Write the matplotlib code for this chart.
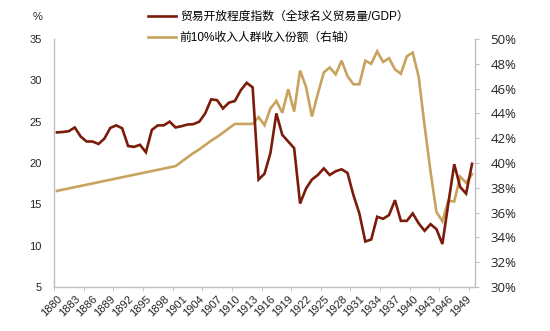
import matplotlib
matplotlib.use("Agg")
import matplotlib.pyplot as plt
from matplotlib.ticker import FixedLocator, FuncFormatter

plt.rcParams['font.family'] = ['Liberation Sans', 'Noto Sans CJK SC', 'DejaVu Sans']

years = list(range(1880, 1951))

trade_openness = [
    23.7, 23.75, 23.85, 24.3, 23.2, 22.6, 22.6, 22.3, 22.95, 24.25,
    24.55, 24.2, 22.05, 21.95, 22.2, 21.3, 24.0, 24.55, 24.55, 25.0,
    24.3, 24.45, 24.65, 24.7, 25.0, 26.0, 27.7, 27.6, 26.6, 27.3,
    27.5, 28.8, 29.7, 29.15, 18.0, 18.7, 21.2, 26.0, 23.4, 22.6,
    21.8, 15.1, 16.9, 18.0, 18.55, 19.35, 18.55, 19.0, 19.24, 18.8,
    16.1, 13.9, 10.5, 10.75, 13.5, 13.25, 13.7, 15.5, 13.0, 13.0,
    13.9, 12.7, 11.8, 12.6, 12.0, 10.2, 15.1, 19.85, 17.1, 16.3,
    19.9,
]

top10_share = [
    37.75, 37.85, 37.95, 38.05, 38.15, 38.25, 38.35, 38.45, 38.55, 38.65,
    38.75, 38.85, 38.95, 39.05, 39.15, 39.25, 39.35, 39.45, 39.55, 39.65,
    39.75, 40.1, 40.45, 40.8, 41.1, 41.45, 41.8, 42.1, 42.45, 42.8,
    43.15, 43.15, 43.15, 43.15, 43.7, 43.05, 44.4, 45.0, 44.05, 45.95,
    44.15, 47.45, 46.15, 43.75, 45.6, 47.3, 47.7, 47.15, 48.25, 47.0,
    46.35, 46.35, 48.25, 48.0, 49.0, 48.15, 48.45, 47.55, 47.2, 48.6,
    48.9, 46.95, 43.0, 39.3, 36.05, 35.3, 36.95, 36.9, 38.9, 38.4,
    39.1,
]

label_years = years[::3]
left_ticks = [5, 10, 15, 20, 25, 30, 35]
right_ticks = [30, 32, 34, 36, 38, 40, 42, 44, 46, 48, 50]

red = '#7B1C0A'
gold = '#C8A35E'
grey = '#BFBFBF'

fig = plt.figure(figsize=(5.5, 3.31), dpi=100)
ax = fig.add_axes([54 / 550, 1 - 287 / 331, (475 - 54) / 550, (287 - 39) / 331])
ax2 = ax.twinx()

l1, = ax.plot(years, trade_openness, color=red, lw=1.9, solid_joinstyle='miter',
              label='贸易开放程度指数（全球名义贸易量/GDP）', zorder=3)
l2, = ax2.plot(years, top10_share, color=gold, lw=1.9, solid_joinstyle='miter',
               label='前10%收入人群收入份额（右轴）', zorder=2)
ax.set_zorder(ax2.get_zorder() + 1)
ax.patch.set_visible(False)

ax.set_xlim(1879.5, 1950.5)
ax.set_ylim(5, 35)
ax2.set_ylim(30, 50)

for a in (ax, ax2):
    a.spines['top'].set_visible(False)
    for s in ('left', 'right', 'bottom'):
        a.spines[s].set_color(grey)
        a.spines[s].set_linewidth(1.0)
ax.spines['right'].set_visible(False)
ax2.spines['left'].set_visible(False)
ax2.spines['bottom'].set_visible(False)

ax.xaxis.set_major_locator(FixedLocator(label_years))
ax.set_xticklabels([str(y) for y in label_years], rotation=45, ha='right',
                   rotation_mode='anchor', fontsize=8, color='#262626')
ax.xaxis.set_minor_locator(FixedLocator([1879.5 + 5 * k for k in range(15)]))
ax.tick_params(axis='x', which='major', length=0, pad=5)
ax.tick_params(axis='x', which='minor', length=3, color=grey, direction='out')

ax.set_yticks(left_ticks)
ax.set_yticklabels([str(v) for v in left_ticks])
ax.tick_params(axis='y', length=0, pad=9, labelsize=8, labelcolor='#262626')

ax2.set_yticks(right_ticks)
ax2.yaxis.set_major_formatter(FuncFormatter(lambda v, p: f'{v:.0f}%'))
ax2.tick_params(axis='y', length=3, color=grey, direction='out', pad=8,
                labelsize=9.5)
for t in ax2.get_yticklabels():
    t.set_fontfamily(['Open Sans', 'DejaVu Sans'])
    t.set_color('#262626')

fig.text(33 / 550, 1 - 17 / 331, '%', fontsize=8, va='center', ha='left',
         color='#262626')

fig.legend(handles=[l1, l2], loc='upper left',
           bbox_to_anchor=(148 / 550, 1 - 11 / 331), frameon=False,
           fontsize=8.5, handlelength=2.4, handletextpad=0.3,
           labelspacing=0.75, borderaxespad=0, borderpad=0)

fig.savefig('out.png', dpi=100)
